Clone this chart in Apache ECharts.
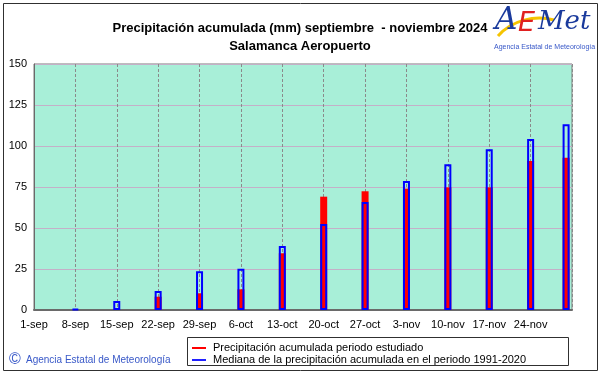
<!DOCTYPE html>
<html><head><meta charset="utf-8">
<script src="https://cdn.jsdelivr.net/npm/echarts@6/dist/echarts.min.js"></script>
<style>html,body{margin:0;padding:0;background:#fff;}#c{width:601px;height:374px;}</style>
</head><body><div id="c"></div>
<script>
// Tick labels (one every 7 days from 1-sep)
const tickLabels = ['1-sep','8-sep','15-sep','22-sep','29-sep','6-oct','13-oct','20-oct','27-oct','3-nov','10-nov','17-nov','24-nov'];
// Day offset from 1-sep of each bar
const barDays = [7,14,21,28,35,42,49,56,63,70,77,84,90];
// Accumulated precipitation in the studied period (mm)
const observed = [0,0,8.1,10.2,12.6,34.6,69.1,72.4,74.0,74.8,74.8,90.9,92.9];
// Median accumulated precipitation 1991-2020 (mm)
const median = [0.7,5.5,11.6,23.6,25.2,39.0,52.4,65.9,78.7,88.8,98.0,104.3,113.2];
const yTicks = [0,25,50,75,100,125,150];

const FONT = 'Liberation Sans, Arial, sans-serif';
const chart = echarts.init(document.getElementById('c'), null, {renderer:'canvas'});
const obsData = barDays.map((d,i)=>[d, observed[i]]);
const medData = barDays.map((d,i)=>[d, median[i]]);

chart.setOption({
  animation:false,
  backgroundColor:'#ffffff',
  title:{
    text:'Precipitación acumulada (mm) septiembre  - noviembre 2024\nSalamanca Aeropuerto',
    left:295, top:14, textAlign:'center',
    textStyle:{fontFamily:FONT,fontSize:13,fontWeight:'bold',color:'#000',lineHeight:18}
  },
  grid:{left:34,right:29,top:64,bottom:64,show:true,backgroundColor:'#a8efd8',borderColor:'#7a7a7a',borderWidth:1},
  xAxis:{
    type:'value',min:0,max:91,interval:7,
    axisLine:{show:true,lineStyle:{color:'#6a6a6a',width:2}},
    axisTick:{show:false},
    axisLabel:{fontFamily:FONT,fontSize:11,color:'#000',margin:9,
      formatter:function(v){const i=Math.round(v/7);return tickLabels[i]!==undefined?tickLabels[i]:'';}},
    splitLine:{show:true,lineStyle:{color:'#8a8a8a',type:[3,2],width:1}}
  },
  yAxis:{
    type:'value',min:yTicks[0],max:yTicks[yTicks.length-1],interval:25,
    axisLine:{show:true,lineStyle:{color:'#6a6a6a',width:1}},
    axisTick:{show:false},
    axisLabel:{fontFamily:FONT,fontSize:11,color:'#000',margin:7},
    splitLine:{show:true,lineStyle:{color:'#c4b0c8',width:1}}
  },
  legend:{
    orient:'vertical',left:192,top:342,itemGap:0,itemWidth:14,itemHeight:2,padding:0,
    icon:'rect',
    textStyle:{fontFamily:FONT,fontSize:11,color:'#000',lineHeight:12,padding:[0,0,0,2]},
    data:[
      {name:'Precipitación acumulada periodo estudiado',itemStyle:{color:'#ff0000',borderWidth:0}},
      {name:'Mediana de la precipitación acumulada en el periodo 1991-2020',itemStyle:{color:'#2020ff',borderWidth:0}}
    ]
  },
  series:[
    {name:'Precipitación acumulada periodo estudiado',type:'bar',data:obsData,barWidth:7,barGap:'-100%',
     itemStyle:{color:'#ff0000'},z:2},
    {name:'Mediana de la precipitación acumulada en el periodo 1991-2020',type:'bar',data:medData,barWidth:7,barGap:'-100%',
     itemStyle:{color:'rgba(0,0,0,0)',borderColor:'#0000ff',borderWidth:2},z:3}
  ],
  graphic:[
    {type:'rect',shape:{x:3.5,y:3.5,width:594,height:367},style:{fill:'none',stroke:'#303030',lineWidth:1},z:-1,silent:true},
    {type:'rect',shape:{x:187.5,y:337.5,width:381,height:28},style:{fill:'none',stroke:'#303030',lineWidth:1},silent:true},
    {type:'text',left:9,top:352,style:{text:'©',fontFamily:FONT,fontSize:16,fill:'#3858c8'}},
    {type:'text',left:26,top:355,style:{text:'Agencia Estatal de Meteorología',fontFamily:FONT,fontSize:10,fill:'#3858c8'}},
    // logo
    {type:'bezierCurve',shape:{x1:498,y1:36,x2:554,y2:20,cpx1:512,cpy1:20,cpx2:535,cpy2:15},style:{stroke:'#f5c400',lineWidth:3,fill:'none'},z:5},
    {type:'text',left:495,top:5,style:{text:'A',fontFamily:'DejaVu Serif',fontStyle:'italic',fontSize:31,fill:'#1a3a9c'},z:6},
    {type:'text',left:518,top:10,style:{text:'E',fontFamily:'DejaVu Sans',fontStyle:'italic',fontSize:27,fill:'#e02020'},z:6},
    {type:'text',left:538,top:9,style:{text:'Met',fontFamily:'DejaVu Serif',fontStyle:'italic',fontSize:26,fill:'#1a3a9c'},z:6},
    {type:'text',left:494,top:44,style:{text:'Agencia Estatal de Meteorología',fontFamily:FONT,fontSize:7,fill:'#3858c8'},z:6}
  ]
});
</script></body></html>
